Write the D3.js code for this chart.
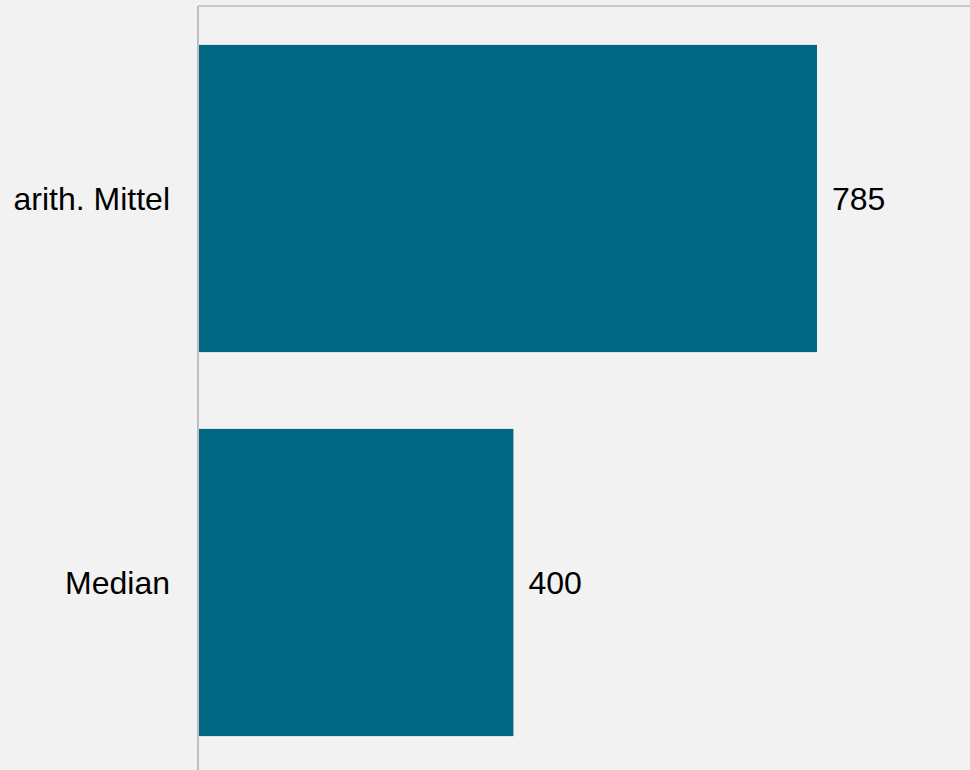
<!DOCTYPE html>
<html><head><meta charset="utf-8">
<script src="https://cdn.jsdelivr.net/npm/d3@7"></script>
<style>html,body{margin:0;padding:0;background:#f2f2f2;}svg{display:block;}</style>
</head><body>
<script>
const categories = ["arith. Mittel", "Median"];
const values = [785, 400];

(function () {
const W = 970, H = 770;
const mLeft = 198, mTop = 6;
const svg = d3.select("body").append("svg").attr("width", W).attr("height", H);
svg.append("rect").attr("width", W).attr("height", H).attr("fill", "#f2f2f2");

const x = d3.scaleLinear().domain([0, 785]).range([mLeft, 817]);
const y = d3.scaleBand().domain(categories).range([mTop + 0.5, mTop + 768.5]).paddingInner(0.2).paddingOuter(0.1);

svg.selectAll("rect.bar").data(values).enter().append("rect")
  .attr("class", "bar")
  .attr("x", x(0) + 1)
  .attr("y", (d, i) => y(categories[i]))
  .attr("width", d => x(d) - x(0) - 1)
  .attr("height", y.bandwidth())
  .attr("fill", "#006682");

svg.append("line").attr("x1", mLeft).attr("x2", mLeft).attr("y1", mTop).attr("y2", H).attr("stroke", "#bfbfbf").attr("stroke-width", 2);
svg.append("line").attr("x1", mLeft).attr("x2", W).attr("y1", mTop).attr("y2", mTop).attr("stroke", "#c8c8c8").attr("stroke-width", 2);

const font = "Liberation Sans, Arial, sans-serif";
svg.selectAll("text.cat").data(categories).enter().append("text")
  .attr("class", "cat")
  .attr("x", 170).attr("y", d => y(d) + y.bandwidth() / 2)
  .attr("dy", "0.35em").attr("text-anchor", "end")
  .attr("font-family", font).attr("font-size", 32).attr("fill", "#000")
  .text(d => d);

svg.selectAll("text.val").data(values).enter().append("text")
  .attr("class", "val")
  .attr("x", d => x(d) + 15).attr("y", (d, i) => y(categories[i]) + y.bandwidth() / 2)
  .attr("dy", "0.35em")
  .attr("font-family", font).attr("font-size", 32).attr("fill", "#000")
  .text(d => d);
})();
</script>
</body></html>
